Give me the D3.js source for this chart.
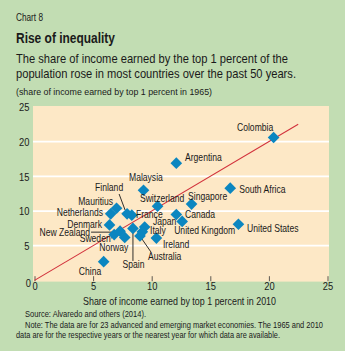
<!DOCTYPE html>
<html>
<head>
<meta charset="utf-8">
<script src="https://cdn.jsdelivr.net/npm/d3@7"></script>
<style>
  html, body { margin: 0; padding: 0; background: #c2ddb3; }
  svg { display: block; }
  text { font-family: "Liberation Sans", Arial, sans-serif; fill: #1a1a1a; }
</style>
</head>
<body>
<svg id="chart" width="345" height="351"></svg>
<script>
// Top 1 percent income share, 23 economies: 2010 (x) vs 1965 (y)
const countries = ["Colombia", "Argentina", "South Africa", "Singapore", "Canada", "United Kingdom",
  "United States", "Ireland", "Switzerland", "Malaysia", "Japan", "Italy", "France", "Spain",
  "Australia", "Norway", "Sweden", "New Zealand", "Denmark", "Netherlands", "Mauritius", "Finland", "China"];
const share2010 = [20.4, 12.1, 16.7, 13.4, 12.1, 12.6, 17.4, 10.4, 10.5, 9.3, 9.4, 9.2, 8.3, 8.4,
  9.0, 7.7, 6.8, 7.3, 6.4, 6.5, 7.0, 7.9, 5.9];
const share1965 = [20.6, 16.9, 13.3, 11.0, 9.5, 8.5, 8.1, 6.1, 10.7, 13.0, 7.7, 7.0, 9.4, 7.5,
  6.4, 6.2, 6.6, 7.1, 8.0, 9.6, 10.4, 9.6, 2.7];
const xTicks = [0, 5, 10, 15, 20, 25];
const yTicks = [0, 5, 10, 15, 20, 25];
const equalityLine = [0, 22.5];

// Label placement around each marker (px offsets, anchor) and optional leader lines
const labelLayout = {
  "Colombia":       { dx: -36.6, dy: -6.4, anchor: "start" },
  "Argentina":      { dx: 8.7,  dy: -2,   anchor: "start" },
  "South Africa":   { dx: 9,    dy: 5,    anchor: "start" },
  "Singapore":      { dx: -3.5, dy: -4.6, anchor: "start" },
  "Canada":         { dx: 8.7,  dy: 3,    anchor: "start" },
  "United Kingdom": { dx: -8,   dy: 12.8, anchor: "start" },
  "United States":  { dx: 8.6,  dy: 7.8,  anchor: "start" },
  "Ireland":        { dx: 6.6,  dy: 9.9,  anchor: "start" },
  "Switzerland":    { dx: -17.6,dy: -4.6, anchor: "start" },
  "Malaysia":       { dx: -14.5,dy: -9.2, anchor: "start" },
  "Japan":          { dx: 8.3,  dy: -1.5, anchor: "start" },
  "Italy":          { dx: 7.7,  dy: 1.7,  anchor: "start" },
  "France":         { dx: 4.2,  dy: 2.8,  anchor: "start" },
  "Spain":          { dx: 0.5,  dy: 39.6, anchor: "middle", lead: [[0, 32.6], [0, 4.6]] },
  "Australia":      { dx: 8,    dy: 24,   anchor: "start",  lead: [[11, 16], [2, 3]] },
  "Norway":         { dx: -11,  dy: 13.6, anchor: "middle" },
  "Sweden":         { dx: -19,  dy: 7.4,  anchor: "middle", lead: [[-3, 3.4], [3, 0.4]] },
  "New Zealand":    { dx: -30,  dy: 4.4,  anchor: "end",    lead: [[-29, 1], [1.5, 1]] },
  "Denmark":        { dx: -7.5, dy: 3,    anchor: "end" },
  "Netherlands":    { dx: -7.7, dy: 2.2,  anchor: "end" },
  "Mauritius":      { dx: -3.5, dy: -3.7, anchor: "end" },
  "Finland":        { dx: -18,  dy: -23.3,anchor: "middle", lead: [[-8, -19.8], [-2, -3.8]] },
  "China":          { dx: -13.6,dy: 13.3, anchor: "middle" }
};

// Narrow the sans face horizontally, either by a factor or to a set width
function condense(sel, factor) {
  sel.each(function () {
    const w = this.getComputedTextLength();
    d3.select(this).attr("textLength", w * factor).attr("lengthAdjust", "spacingAndGlyphs");
  });
}
function fitTo(sel, width) {
  sel.attr("textLength", width).attr("lengthAdjust", "spacingAndGlyphs");
}

const svg = d3.select("#chart");

// Header text
fitTo(svg.append("text").attr("x", 16).attr("y", 20.5).attr("font-size", 10).text("Chart 8"), 27);
fitTo(svg.append("text").attr("x", 16).attr("y", 42.5).attr("font-size", 14.5).attr("font-weight", "bold")
  .text("Rise of inequality"), 99);
fitTo(svg.append("text").attr("x", 16).attr("y", 63).attr("font-size", 13)
  .text("The share of income earned by the top 1 percent of the"), 272);
fitTo(svg.append("text").attr("x", 16).attr("y", 77.5).attr("font-size", 13)
  .text("population rose in most countries over the past 50 years."), 280);
fitTo(svg.append("text").attr("x", 16).attr("y", 94.5).attr("font-size", 9.3)
  .text("(share of income earned by top 1 percent in 1965)"), 196);

const x = d3.scaleLinear().domain([0, 25]).range([34.5, 327.5]);
const y = d3.scaleLinear().domain([0, 25]).range([280.4, 107]);

// Plot panel
svg.append("rect")
  .attr("x", x(0) - 1.5).attr("y", y(25) - 1)
  .attr("width", x(25) - x(0) + 3).attr("height", y(0) - y(25) + 2.2)
  .attr("fill", "#fde8c6");

// Horizontal gridlines and y labels
const yAxis = d3.axisLeft(y).tickValues(yTicks).tickSize(0).tickPadding(0).tickFormat(d3.format("d"));
const gy = svg.append("g").attr("transform", `translate(29.5,0)`).call(yAxis);
gy.select(".domain").remove();
gy.selectAll("text").attr("font-size", 11).attr("font-family", null)
  .attr("dy", d => d === 0 ? "0.55em" : "0.35em")
  .attr("dx", d => d === 0 ? 1.5 : 0);
condense(gy.selectAll("text"), 0.85);

svg.append("g").selectAll("line")
  .data(yTicks.filter(d => d > 0 && d < 25))
  .join("line")
  .attr("x1", x(0) - 1.5).attr("x2", x(25) + 1.5)
  .attr("y1", d => y(d)).attr("y2", d => y(d))
  .attr("stroke", "#ffffff").attr("stroke-width", 1.8);

// x axis: short inward ticks, labels below
const xAxis = d3.axisBottom(x).tickValues(xTicks).tickSize(-5).tickPadding(8).tickFormat(d3.format("d"));
const gx = svg.append("g").attr("transform", `translate(0,${y(0) + 0.8})`).call(xAxis);
gx.select(".domain").remove();
gx.selectAll(".tick line").attr("stroke", "#333").attr("stroke-width", 0.8);
gx.selectAll("text").attr("font-size", 11).attr("font-family", null).attr("y", 1.2).attr("dy", "0.71em");
condense(gx.selectAll("text"), 0.85);

fitTo(svg.append("text").attr("x", 83).attr("y", 304.5).attr("font-size", 10.5)
  .text("Share of income earned by top 1 percent in 2010"), 193);

// 45-degree reference line
svg.append("line")
  .attr("x1", x(equalityLine[0])).attr("y1", y(equalityLine[0]))
  .attr("x2", x(equalityLine[1])).attr("y2", y(equalityLine[1]))
  .attr("stroke", "#d2323c").attr("stroke-width", 1.1);

const points = countries.map((c, i) => ({ name: c, vx: share2010[i], vy: share1965[i] }));

// Leader lines
svg.append("g").selectAll("path")
  .data(points.filter(p => labelLayout[p.name].lead))
  .join("path")
  .attr("d", p => {
    const px = x(p.vx), py = y(p.vy);
    return d3.line()(labelLayout[p.name].lead.map(([a, b]) => [px + a, py + b]));
  })
  .attr("fill", "none").attr("stroke", "#1a1a1a").attr("stroke-width", 0.9);

// Diamond markers
const diamond = d3.symbol().type(d3.symbolSquare).size(68);
svg.append("g").selectAll("path")
  .data(points)
  .join("path")
  .attr("d", diamond)
  .attr("transform", p => `translate(${x(p.vx)},${y(p.vy)}) rotate(45)`)
  .attr("fill", "#0b86c0");

// Country labels
const labels = svg.append("g").selectAll("text")
  .data(points)
  .join("text")
  .attr("x", p => x(p.vx) + labelLayout[p.name].dx)
  .attr("y", p => y(p.vy) + labelLayout[p.name].dy)
  .attr("text-anchor", p => labelLayout[p.name].anchor)
  .attr("font-size", 11)
  .text(p => p.name);
condense(labels, 0.78);

// Footnotes
fitTo(svg.append("text").attr("x", 25).attr("y", 317).attr("font-size", 8.6)
  .text("Source: Alvaredo and others (2014)."), 121);
fitTo(svg.append("text").attr("x", 25).attr("y", 327.8).attr("font-size", 8.6)
  .text("Note: The data are for 23 advanced and emerging market economies. The 1965 and 2010"), 298);
fitTo(svg.append("text").attr("x", 16).attr("y", 338.3).attr("font-size", 8.6)
  .text("data are for the respective years or the nearest year for which data are available."), 264);
</script>
</body>
</html>
